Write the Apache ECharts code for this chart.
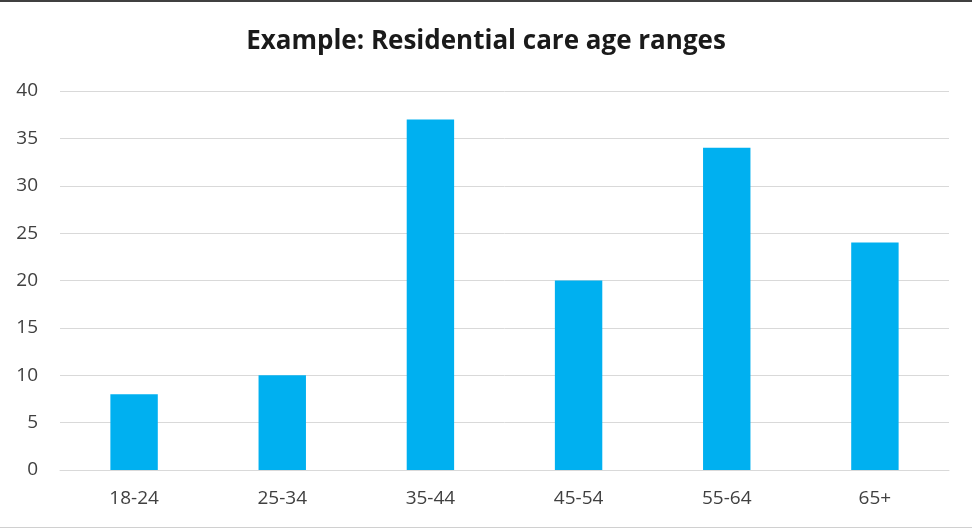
<!DOCTYPE html>
<html>
<head>
<meta charset="utf-8">
<script src="https://cdn.jsdelivr.net/npm/echarts@6/dist/echarts.min.js"></script>
<style>
  html, body { margin: 0; padding: 0; background: #fff; }
  #chart { width: 972px; height: 530px; }
</style>
</head>
<body>
<div id="chart"></div>
<script>
// Residential care residents by age range
const ageRanges = ['18-24', '25-34', '35-44', '45-54', '55-64', '65+'];
const residents = [8, 10, 37, 20, 34, 24];
const yTicks = { min: 0, max: 40, step: 5 };

const chart = echarts.init(document.getElementById('chart'), null, { renderer: 'canvas' });
const fontFamily = '"Open Sans", "Noto Sans", "DejaVu Sans", sans-serif';

chart.setOption({
  backgroundColor: '#ffffff',
  animation: false,
  title: {
    text: 'Example: Residential care age ranges',
    left: 'center',
    top: 24,
    textStyle: { fontFamily, fontSize: 26, fontWeight: 'bold', color: '#1a1a1a' }
  },
  grid: { left: 60, right: 23, top: 91, bottom: 60, containLabel: false },
  xAxis: {
    type: 'category',
    data: ageRanges,
    axisLine: { show: true, lineStyle: { color: '#d9d9d9', width: 1 } },
    axisTick: { show: false },
    axisLabel: { fontFamily, fontSize: 19, color: '#404040', margin: 19 }
  },
  yAxis: {
    type: 'value',
    min: yTicks.min,
    max: yTicks.max,
    interval: yTicks.step,
    axisLine: { show: false },
    axisTick: { show: false },
    axisLabel: { fontFamily, fontSize: 19, color: '#404040', margin: 22 },
    splitLine: { lineStyle: { color: '#d9d9d9', width: 1 } }
  },
  series: [{
    type: 'bar',
    data: residents,
    barWidth: '32%',
    itemStyle: { color: '#00b0f0' }
  }],
  graphic: [
    { type: 'rect', shape: { x: 0, y: 0, width: 972, height: 2 }, style: { fill: '#404040' }, silent: true },
    { type: 'rect', shape: { x: 0, y: 527, width: 972, height: 1 }, style: { fill: '#d0d0d0' }, silent: true }
  ]
});
</script>
</body>
</html>
